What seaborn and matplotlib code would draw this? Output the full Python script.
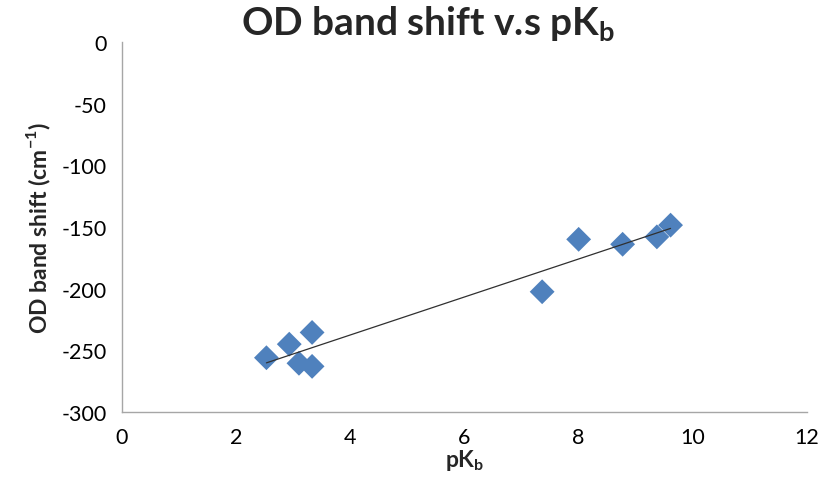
import numpy as np
import pandas as pd
import matplotlib
matplotlib.use("Agg")
import matplotlib.pyplot as plt
import seaborn as sns

# data
pkb = [2.53, 2.93, 3.10, 3.33, 3.33, 7.36, 8.00, 8.77, 9.37, 9.61]
od_shift = [-256, -245, -260.5, -235.5, -263, -202.5, -160, -164, -158, -148.5]

x_ticks = [0, 2, 4, 6, 8, 10, 12]
y_ticks = [0, -50, -100, -150, -200, -250, -300]

df = pd.DataFrame({"pKb": pkb, "shift": od_shift})

sns.set_style("white")
plt.rcParams["font.family"] = ["Lato", "DejaVu Sans"]
plt.rcParams["mathtext.fontset"] = "custom"
plt.rcParams["mathtext.rm"] = "Lato"
plt.rcParams["mathtext.bf"] = "Lato:bold"
plt.rcParams["axes.unicode_minus"] = False

fig = plt.figure(figsize=(8.24, 4.85), dpi=100)
ax = fig.add_axes([122 / 824, 1 - 413 / 485, (807 - 122) / 824, (413 - 43) / 485])

sns.regplot(data=df, x="pKb", y="shift", ax=ax, ci=None, marker="D",
            scatter_kws={"s": 160, "color": "#4F81BD", "edgecolor": "none", "alpha": 1},
            line_kws={"color": "#303030", "linewidth": 0.9})

ax.set_xlim(0, 12)
ax.set_ylim(-300, 0)
ax.set_xticks(x_ticks)
ax.set_yticks(y_ticks)
ax.tick_params(axis="both", direction="out", length=5, width=1, color="#A6A6A6",
               labelsize=15.5, labelcolor="black", pad=6)
for side in ["top", "right"]:
    ax.spines[side].set_visible(False)
for side in ["left", "bottom"]:
    ax.spines[side].set_color("#A6A6A6")
    ax.spines[side].set_linewidth(1)

ax.set_xlabel(r"pK$_\mathregular{b}$", fontsize=16.5, fontweight="bold", labelpad=0)
ax.set_ylabel(r"OD band shift (cm$^\mathregular{-1}$)", fontsize=16.5, fontweight="bold", labelpad=6)
fig.text(0.52, 0.95, r"OD band shift v.s pK$_\mathregular{b}$", ha="center", va="center",
         fontsize=28, fontweight="bold")

fig.savefig("out.png", dpi=100)
